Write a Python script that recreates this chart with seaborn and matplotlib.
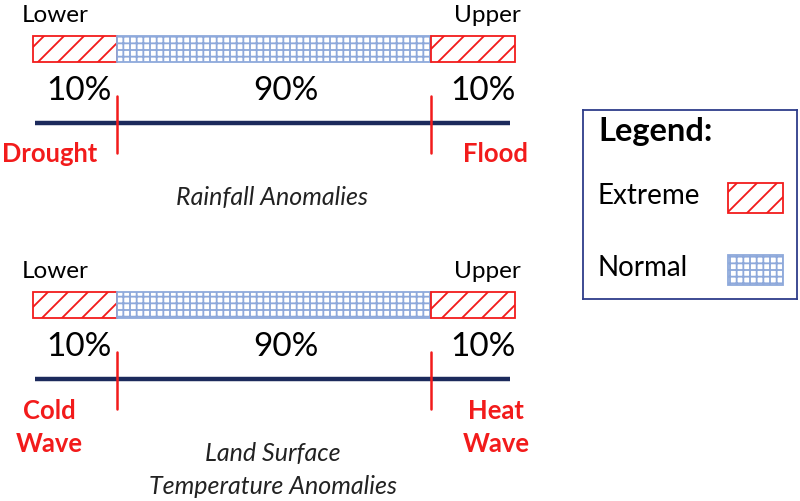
import matplotlib
matplotlib.use("Agg")
import matplotlib.pyplot as plt
import seaborn as sns

DPI = 120
F = 100 / DPI          # converts sizes tuned at 100 dpi
sns.set_theme(style="white")
plt.rcParams['font.family'] = ['Lato', 'DejaVu Sans']
plt.rcParams['hatch.linewidth'] = 1.1

# ---- data ----
seg_kind = ["Extreme", "Normal", "Extreme"]
seg_start = [0, 17.5, 82.5]
seg_width = [17.5, 65, 17.5]
pct_labels = ["10%", "90%", "10%"]
thresholds = [17.5, 82.5]
bound_labels = ["Lower", "Upper"]
panel_titles = ["Rainfall Anomalies", "Land Surface\nTemperature Anomalies"]
lower_events = ["Drought", "Cold\nWave"]
upper_events = ["Flood", "Heat\nWave"]
legend_items = ["Extreme", "Normal"]

RED = "#F21B1B"
BLUE = "#8EA9DB"
NAVY = "#1C2A5C"
style = {"Extreme": dict(edgecolor=RED, hatch="//"),
         "Normal": dict(edgecolor=BLUE, hatch="+++")}

W, H = 800, 501
fig = plt.figure(figsize=(W / DPI, H / DPI), dpi=DPI)
ax = fig.add_axes([0, 0, 1, 1])
scale = 4.82  # px per percent
x0 = 33
ax.set_xlim(-x0 / scale, (W - x0) / scale)
ax.set_ylim(H, 0)
ax.axis("off")


def multiline(x, y_first, text, step, **kw):
    for k, line in enumerate(text.split("\n")):
        ax.text(x, y_first + k * step, line, ha="center", va="center", **kw)


offsets = [0, 256]
for p, off in enumerate(offsets):
    for kind, s, w in zip(seg_kind, seg_start, seg_width):
        ax.barh(49 + off, w, left=s, height=26, facecolor="white",
                linewidth=1.3 * F, **style[kind])
    ax.text(-2.3, 15 + off, bound_labels[0], ha="left", va="center", fontsize=17.5 * F, color="black")
    ax.text(101.2, 15 + off, bound_labels[1], ha="right", va="center", fontsize=17.5 * F, color="black")
    centers = [9.5, 52.5, 93.3]
    for c, lab in zip(centers, pct_labels):
        ax.text(c, 91 + off, lab, ha="center", va="center", fontsize=24 * F, color="black")
    ax.plot([0.4, 99], [123 + off, 123 + off], color=NAVY, lw=3.2 * F * 1.0, solid_capstyle="butt")
    for t in thresholds:
        ax.plot([t, t], [96 + off, 153 + off], color=RED, lw=1.8 * F)
    if "\n" in lower_events[p]:
        multiline(3.4, 411, lower_events[p], 33, fontsize=18.5 * F, fontweight="bold", color=RED)
        multiline(96.1, 411, upper_events[p], 33, fontsize=18.5 * F, fontweight="bold", color=RED)
        multiline(49.7, 454, panel_titles[p], 32, fontsize=18 * F, style="italic", color="#222222")
    else:
        ax.text(-6.5, 154, lower_events[p], ha="left", va="center", fontsize=18.5 * F,
                fontweight="bold", color=RED)
        ax.text(102.7, 154, upper_events[p], ha="right", va="center", fontsize=18.5 * F,
                fontweight="bold", color=RED)
        multiline(49.6, 197, panel_titles[p], 32, fontsize=18 * F, style="italic", color="#222222")

# legend box
lax = fig.add_axes([583 / W, 1 - 299 / H, 214 / W, 189 / H])
lax.set_xlim(583, 797)
lax.set_ylim(299, 110)
lax.set_xticks([])
lax.set_yticks([])
for sp in lax.spines.values():
    sp.set_visible(True)
    sp.set_color("#2E3D8A")
    sp.set_linewidth(1.3 * F)
lax.set_facecolor("white")
lax.text(598, 132, "Legend:", ha="left", va="center", fontsize=23.5 * F, fontweight="bold", color="black")
for i, item in enumerate(legend_items):
    y = 196 + i * 72
    lax.text(598, y, item, ha="left", va="center", fontsize=20 * F, color="black")
    lax.barh(y + 1.5, 55, left=728, height=30, facecolor="white", linewidth=1.3 * F, **style[item])

fig.savefig("out.png", dpi=DPI, facecolor="white")
